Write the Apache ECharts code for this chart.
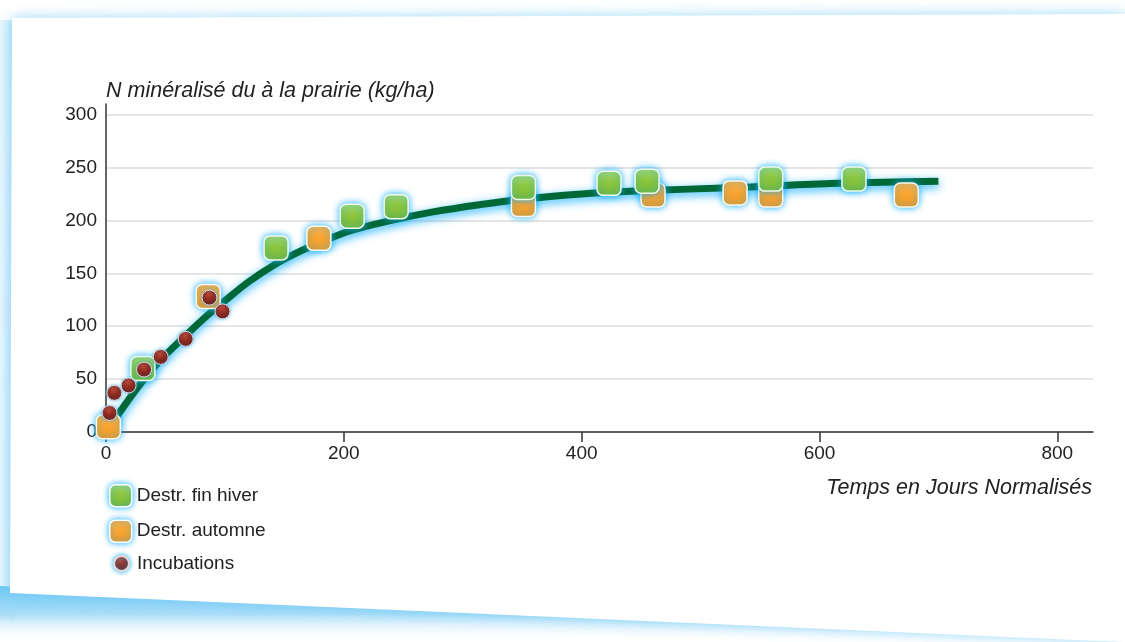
<!DOCTYPE html>
<html>
<head>
<meta charset="utf-8">
<script src="https://cdn.jsdelivr.net/npm/echarts@6/dist/echarts.min.js"></script>
<style>
html,body{margin:0;padding:0;background:#fff;}
#chart{width:1125px;height:642px;}
</style>
</head>
<body>
<div id="chart"></div>
<script>
// ---- data ----
var xTicks = [0, 200, 400, 600, 800];
var yTicks = [0, 50, 100, 150, 200, 250, 300];

var hiverX = [31, 143, 207, 244, 351, 423, 455, 559, 629];
var hiverY = [60, 174, 204, 213, 231, 235, 237, 239, 239];

var automneX = [2, 86, 179, 351, 460, 529, 559, 673];
var automneY = [5, 128, 183, 215, 224, 226, 224, 224];

var incubX = [3, 7, 19, 32, 46, 67, 87, 98];
var incubY = [18, 37, 44, 59, 71, 88, 127, 114];

var curveX = [0, 10, 20, 30, 45, 65, 85, 100, 120, 140, 160, 180, 205, 240, 275, 315, 350, 400, 450, 530, 615, 700];
var curveY = [0, 16, 32, 47, 67, 89, 110, 124, 142, 157, 169, 179, 190, 200, 208, 215, 220, 225, 228, 231, 235, 237];

function pairs(xs, ys) { return xs.map(function (x, i) { return [x, ys[i]]; }); }

var FONT = '"Liberation Sans", Arial, sans-serif';
var glow = 'rgba(0,170,255,0.9)';

var chart = echarts.init(document.getElementById('chart'), null, {renderer: 'canvas'});

var option = {
  backgroundColor: '#ffffff',
  animation: false,
  graphic: [
    { type: 'rect', z: -11, silent: true,
      shape: { x: 0, y: 20, width: 14, height: 600 },
      style: { fill: new echarts.graphic.LinearGradient(0, 0, 1, 0, [
        { offset: 0, color: 'rgba(170,222,250,0.25)' }, { offset: 1, color: 'rgba(150,215,248,0.6)' }]) } },
    { type: 'polygon', z: -10, silent: true,
      shape: { points: [[0, 586], [1125, 634], [1125, 642], [0, 642]] },
      style: { fill: new echarts.graphic.LinearGradient(0, 0, 0, 1, [
        { offset: 0, color: '#6ec8f4' }, { offset: 0.5, color: '#a9ddf8' }, { offset: 1, color: 'rgba(255,255,255,0)' }]) } },
    { type: 'polygon', z: -9, silent: true,
      shape: { points: [[12, 18], [1125, 14], [1125, 642], [1076, 640], [10, 593]] },
      style: { fill: '#ffffff', shadowColor: 'rgba(110,200,245,0.7)', shadowBlur: 14 } }
  ],
  grid: { left: 106, right: 32, top: 104, bottom: 210, containLabel: false },
  xAxis: {
    type: 'value', min: 0, max: 830,
    name: 'Temps en Jours Normalisés',
    nameLocation: 'end', nameGap: -1,
    nameTextStyle: { fontFamily: FONT, fontStyle: 'italic', fontSize: 21.5, color: '#222',
      align: 'right', verticalAlign: 'top', padding: [45, 0, 0, 0] },
    axisLine: { show: true, lineStyle: { color: '#333', width: 1.5 } },
    axisTick: { show: true, length: 10, inside: false, customValues: xTicks, lineStyle: { color: '#333', width: 1.5 } },
    axisLabel: { customValues: xTicks, fontFamily: FONT, fontSize: 19, color: '#222', margin: 12 },
    splitLine: { show: false }
  },
  yAxis: {
    type: 'value', min: 0, max: 310,
    name: 'N minéralisé du à la prairie (kg/ha)',
    nameLocation: 'end', nameGap: 2,
    nameTextStyle: { fontFamily: FONT, fontStyle: 'italic', fontSize: 21.5, color: '#222', align: 'left' },
    axisLine: { show: true, lineStyle: { color: '#333', width: 1.5 } },
    axisTick: { show: false, customValues: yTicks },
    axisLabel: { customValues: yTicks, fontFamily: FONT, fontSize: 19, color: '#222', margin: 9 },
    splitLine: { show: true, lineStyle: { color: '#dcdcdc', width: 1.5 } }
  },
  legend: [
    { orient: 'vertical', left: 104, top: 479, itemWidth: 22, itemHeight: 22, itemGap: 12,
      data: [{ name: 'Destr. fin hiver', icon: 'roundRect' }, { name: 'Destr. automne', icon: 'roundRect' }],
      itemStyle: { shadowColor: glow, shadowBlur: 6, borderColor: '#ffffff', borderWidth: 1.5 },
      textStyle: { fontFamily: FONT, fontSize: 19, color: '#222' } },
    { orient: 'vertical', left: 108, top: 549, itemWidth: 15, itemHeight: 15,
      data: [{ name: 'Incubations', icon: 'circle' }],
      itemStyle: { shadowColor: glow, shadowBlur: 5 },
      textStyle: { fontFamily: FONT, fontSize: 19, color: '#222', padding: [0, 0, 0, 3] } }
  ],
  series: [
    { name: 'Courbe', type: 'line', smooth: 0.4, showSymbol: false, z: 1,
      data: pairs(curveX, curveY),
      lineStyle: { color: '#006837', width: 7, shadowColor: 'rgba(0,170,255,0.85)', shadowBlur: 10, shadowOffsetY: 3 } },
    { name: 'Destr. automne', type: 'scatter', symbol: 'roundRect', symbolSize: 24, z: 2,
      data: pairs(automneX, automneY),
      itemStyle: { opacity: 1, color: new echarts.graphic.LinearGradient(0, 0, 0, 1, [
        { offset: 0, color: '#fbb24a' }, { offset: 0.45, color: '#f9a531' }, { offset: 1, color: '#f39a22' }]),
        borderColor: '#fff8e8', borderWidth: 1.5, shadowColor: glow, shadowBlur: 7 } },
    { name: 'Destr. fin hiver', type: 'scatter', symbol: 'roundRect', symbolSize: 24, z: 3,
      data: pairs(hiverX, hiverY),
      itemStyle: { opacity: 1, color: new echarts.graphic.LinearGradient(0, 0, 0, 1, [
        { offset: 0, color: '#a9d870' }, { offset: 0.45, color: '#8cc63f' }, { offset: 1, color: '#7bb82e' }]),
        borderColor: '#f2fae6', borderWidth: 1.5, shadowColor: glow, shadowBlur: 7 } },
    { name: 'Incubations', type: 'scatter', symbol: 'circle', symbolSize: 15, z: 4,
      data: pairs(incubX, incubY),
      itemStyle: { opacity: 1, color: new echarts.graphic.RadialGradient(0.45, 0.3, 0.7, [
        { offset: 0, color: '#b8473a' }, { offset: 0.5, color: '#8e2a1f' }, { offset: 1, color: '#6d1810' }]),
        borderColor: '#f0d8d0', borderWidth: 1, shadowColor: 'rgba(0,170,255,0.6)', shadowBlur: 3 } }
  ]
};
chart.setOption(option);
</script>
</body>
</html>
